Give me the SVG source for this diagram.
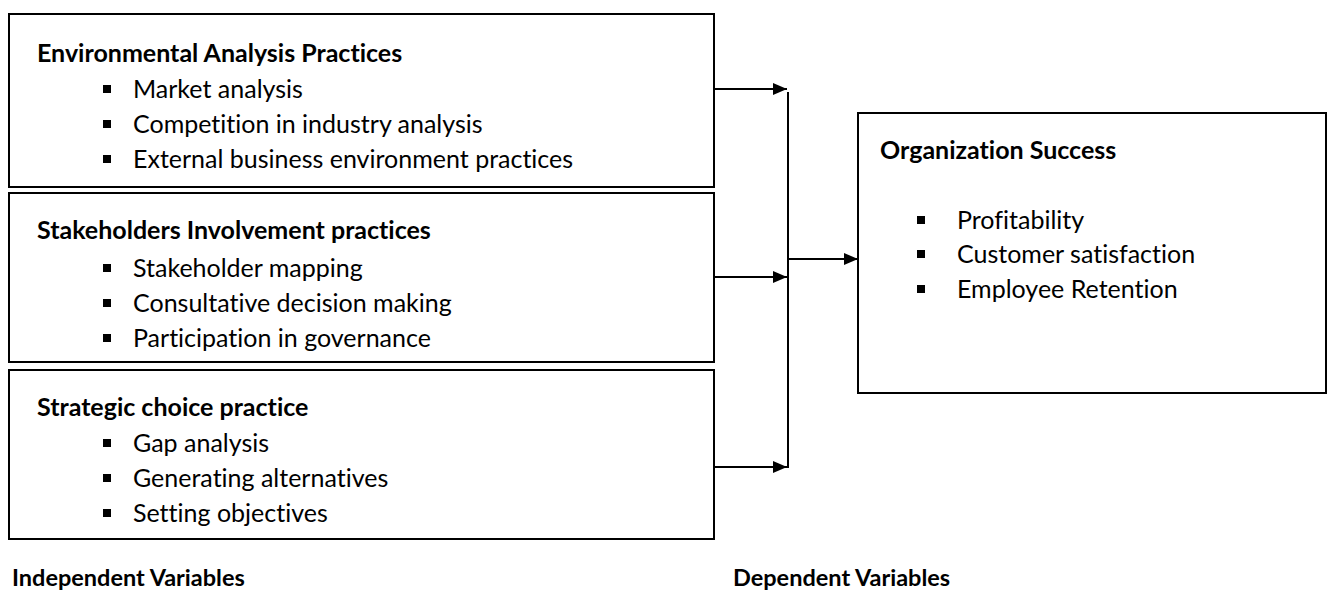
<svg xmlns="http://www.w3.org/2000/svg" width="1327" height="590" viewBox="0 0 1327 590">
<style>
.box{fill:#fff;stroke:#000;stroke-width:2}
.t{font-family:Lato,"Open Sans",sans-serif;font-size:25px;fill:#000;font-variant-ligatures:none;font-feature-settings:"liga" 0,"clig" 0}
.b{font-weight:bold}
.lb{font-size:23.5px}
.bl{fill:#000}
.c{stroke:#000;stroke-width:2;fill:none}
</style>
<defs>
<marker id="ah" viewBox="0 0 14 12" refX="14" refY="6" markerWidth="14" markerHeight="12" markerUnits="userSpaceOnUse" orient="auto">
<path d="M0,0 L14,6 L0,12 Z" fill="#000"/>
</marker>
</defs>
<rect width="1327" height="590" fill="#fff"/>
<g id="env">
<rect class="box" x="9" y="14" width="705" height="173"/>
<text class="t b" x="37" y="62">Environmental Analysis Practices</text>
<rect class="bl" x="103" y="85" width="8" height="8"/>
<rect class="bl" x="103" y="120" width="8" height="8"/>
<rect class="bl" x="103" y="155" width="8" height="8"/>
<text class="t" x="133" y="98">Market analysis</text>
<text class="t" x="133" y="133">Competition in industry analysis</text>
<text class="t" x="133" y="168">External business environment practices</text>
</g>
<g id="stake">
<rect class="box" x="9" y="193" width="705" height="169"/>
<text class="t b" x="37" y="239">Stakeholders Involvement practices</text>
<rect class="bl" x="103" y="264" width="8" height="8"/>
<rect class="bl" x="103" y="299" width="8" height="8"/>
<rect class="bl" x="103" y="334" width="8" height="8"/>
<text class="t" x="133" y="277">Stakeholder mapping</text>
<text class="t" x="133" y="312">Consultative decision making</text>
<text class="t" x="133" y="347">Participation in governance</text>
</g>
<g id="strat">
<rect class="box" x="9" y="370" width="705" height="169"/>
<text class="t b" x="37" y="416">Strategic choice practice</text>
<rect class="bl" x="103" y="439" width="8" height="8"/>
<rect class="bl" x="103" y="474" width="8" height="8"/>
<rect class="bl" x="103" y="509" width="8" height="8"/>
<text class="t" x="133" y="452">Gap analysis</text>
<text class="t" x="133" y="487">Generating alternatives</text>
<text class="t" x="133" y="522">Setting objectives</text>
</g>
<g id="success">
<rect class="box" x="858" y="113" width="468" height="280"/>
<text class="t b" x="880" y="159">Organization Success</text>
<rect class="bl" x="917" y="216" width="8" height="8"/>
<rect class="bl" x="917" y="250" width="8" height="8"/>
<rect class="bl" x="917" y="285" width="8" height="8"/>
<text class="t" x="957" y="229">Profitability</text>
<text class="t" x="957" y="263">Customer satisfaction</text>
<text class="t" x="957" y="298">Employee Retention</text>
</g>
<g id="labels">
<text class="t b lb" x="12" y="586">Independent Variables</text>
<text class="t b lb" x="733" y="586">Dependent Variables</text>
</g>
<g id="connectors">
<line class="c" x1="714" y1="89" x2="787" y2="89" marker-end="url(#ah)"/>
<line class="c" x1="714" y1="277" x2="787" y2="277" marker-end="url(#ah)"/>
<line class="c" x1="714" y1="467" x2="787" y2="467" marker-end="url(#ah)"/>
<line class="c" x1="788" y1="92" x2="788" y2="468"/>
<line class="c" x1="788" y1="259" x2="858" y2="259" marker-end="url(#ah)"/>
</g>
</svg>
